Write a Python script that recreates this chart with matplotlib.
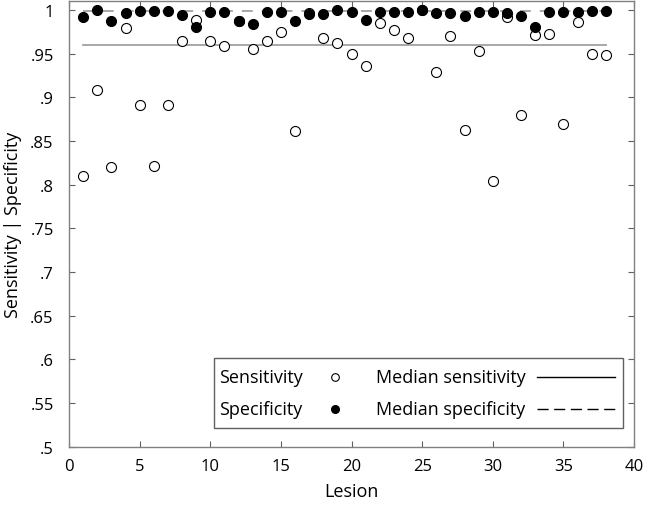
import matplotlib
matplotlib.use("Agg")
import matplotlib.pyplot as plt
from matplotlib.patches import Rectangle
from matplotlib.ticker import FuncFormatter

plt.rcParams['font.family'] = ['Open Sans', 'DejaVu Sans']

# data
lesion = list(range(1, 39))
sensitivity = [0.810, 0.908, 0.820, 0.979, 0.891, 0.822, 0.891, 0.965, 0.989, 0.964,
               0.959, 0.987, 0.955, 0.964, 0.975, 0.862, 0.997, 0.968, 0.962, 0.950,
               0.936, 0.985, 0.977, 0.968, 1.000, 0.929, 0.970, 0.863, 0.953, 0.804,
               0.992, 0.880, 0.971, 0.972, 0.870, 0.986, 0.950, 0.948]
specificity = [0.992, 1.000, 0.987, 0.997, 0.999, 0.999, 0.999, 0.994, 0.980, 0.998,
               0.998, 0.987, 0.984, 0.998, 0.998, 0.988, 0.995, 0.995, 1.000, 0.998,
               0.989, 0.998, 0.998, 0.998, 1.000, 0.997, 0.997, 0.993, 0.998, 0.998,
               0.997, 0.993, 0.980, 0.998, 0.998, 0.998, 0.999, 0.999]
median_sens = 0.960
median_spec = 0.9985

fig = plt.figure(figsize=(6.45, 5.06), dpi=100)
ax = fig.add_axes([0.107, 0.115, 0.876, 0.881])

ax.plot([lesion[0], lesion[-1]], [median_sens, median_sens], color='#a0a0a0', lw=1.3)
ax.plot([lesion[0], lesion[-1]], [median_spec, median_spec], color='#a0a0a0', lw=1.3,
        linestyle=(0, (6, 5)))
ax.plot(lesion, sensitivity, 'o', ms=7.2, mfc='white', mec='black', mew=0.8)
ax.plot(lesion, specificity, 'o', ms=7.2, mfc='black', mec='black', mew=0.8)

ax.set_xlim(0, 40)
ax.set_ylim(0.5, 1.0103)
ax.set_xticks(range(0, 41, 5))
ax.set_yticks([0.5 + 0.05 * i for i in range(11)])
ax.yaxis.set_major_formatter(FuncFormatter(lambda v, p: ('%g' % round(v, 2)).lstrip('0')))
ax.tick_params(direction='in', top=True, right=True, length=4, color='#606060',
               labelsize=12)
ax.tick_params(axis='y', pad=11)
ax.tick_params(axis='x', pad=8)
for s in ax.spines.values():
    s.set_color('#808080')
    s.set_linewidth(1.0)

ax.set_xlabel('Lesion', fontsize=13, labelpad=6)
ax.set_ylabel('Sensitivity | Specificity', fontsize=13, labelpad=6)

# legend box drawn by hand (label first, then symbol)
ax.add_patch(Rectangle((0.257, 0.0426), 0.7235, 0.157, transform=ax.transAxes,
                       facecolor='white', edgecolor='#606060', lw=1.0, zorder=5))
rows = [0.157, 0.0852]
kw = dict(transform=ax.transAxes, fontsize=13, va='center', ha='left', zorder=6)
ax.text(0.2655, rows[0], 'Sensitivity', **kw)
ax.text(0.2655, rows[1], 'Specificity', **kw)
ax.text(0.5434, rows[0], 'Median sensitivity', **kw)
ax.text(0.5434, rows[1], 'Median specificity', **kw)
ax.plot([0.4708], [rows[0]], 'o', ms=5.5, mfc='white', mec='black', mew=0.8,
        transform=ax.transAxes, zorder=6)
ax.plot([0.4708], [rows[1]], 'o', ms=5.5, mfc='black', mec='black',
        transform=ax.transAxes, zorder=6)
ax.plot([0.8283, 0.9664], [rows[0], rows[0]], color='black', lw=1.0,
        transform=ax.transAxes, zorder=6)
ax.plot([0.8283, 0.9664], [rows[1], rows[1]], color='black', lw=1.0,
        linestyle=(0, (8, 4)), transform=ax.transAxes, zorder=6)

fig.savefig('out.png', dpi=100)
